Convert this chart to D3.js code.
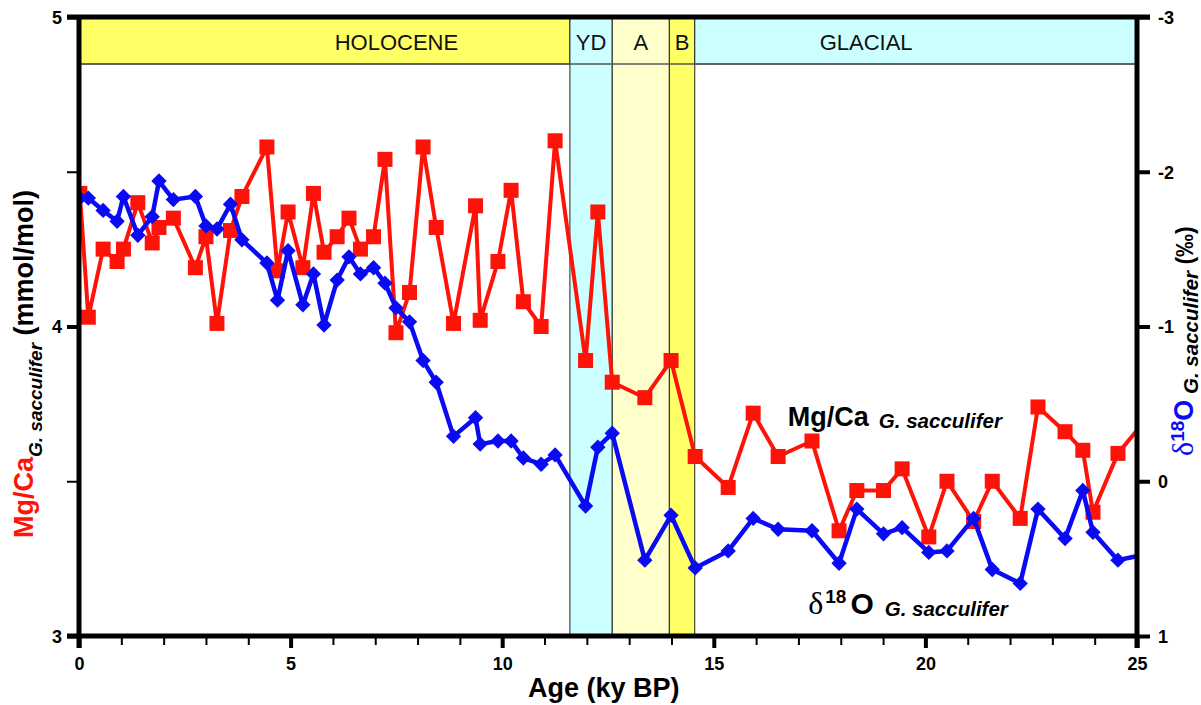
<!DOCTYPE html>
<html>
<head>
<meta charset="utf-8">
<script src="https://cdn.jsdelivr.net/npm/d3@7"></script>
<style>
  body { margin: 0; background: #fff; }
  text { font-family: "Liberation Sans", Arial, Helvetica, sans-serif; }
</style>
</head>
<body>
<svg id="chart" width="1201" height="705"></svg>
<script>
// sample ages (ky BP), shared by both records; last one is past the axis end and gets clipped
let ages = [0.02, 0.22, 0.57, 0.90, 1.05, 1.39, 1.73, 1.89, 2.23, 2.75, 3.00, 3.26, 3.58, 3.85,
  4.44, 4.69, 4.94, 5.29, 5.54, 5.79, 6.10, 6.38, 6.65, 6.96, 7.23, 7.49, 7.81, 8.13, 8.44,
  8.85, 9.37, 9.48, 9.90, 10.21, 10.50, 10.92, 11.25, 11.97, 12.26, 12.60, 13.37, 13.99,
  14.56, 15.34, 15.93, 16.52, 17.32, 17.96, 18.38, 19.01, 19.45, 20.08, 20.51, 21.14, 21.58,
  22.24, 22.66, 23.30, 23.72, 23.96, 24.55, 25.4];

// Mg/Ca (mmol/mol)
let mgCa = [4.43, 4.03, 4.25, 4.21, 4.25, 4.40, 4.27, 4.32, 4.35, 4.19, 4.29, 4.01, 4.31, 4.42,
  4.58, 4.18, 4.37, 4.19, 4.43, 4.24, 4.29, 4.35, 4.25, 4.29, 4.54, 3.98, 4.11, 4.58, 4.32,
  4.01, 4.39, 4.02, 4.21, 4.44, 4.08, 4.00, 4.60, 3.89, 4.37, 3.82, 3.77, 3.89,
  3.58, 3.48, 3.72, 3.58, 3.63, 3.34, 3.47, 3.47, 3.54, 3.32, 3.50, 3.37, 3.50,
  3.38, 3.74, 3.66, 3.60, 3.40, 3.59, 3.73];

// d18O (permil)
let d18O = [-1.83, -1.83, -1.75, -1.68, -1.84, -1.59, -1.71, -1.94, -1.82, -1.84, -1.65, -1.63, -1.79, -1.56,
  -1.41, -1.17, -1.49, -1.14, -1.34, -1.01, -1.30, -1.45, -1.34, -1.38, -1.28, -1.12, -1.03, -0.78, -0.64,
  -0.29, -0.41, -0.24, -0.26, -0.26, -0.15, -0.11, -0.17, 0.16, -0.22, -0.31, 0.51, 0.22,
  0.56, 0.45, 0.24, 0.31, 0.32, 0.53, 0.18, 0.34, 0.30, 0.46, 0.45, 0.24, 0.57,
  0.66, 0.18, 0.37, 0.06, 0.33, 0.51, 0.46];

let periodNames = ["HOLOCENE", "YD", "A", "B", "GLACIAL"];
let periodBounds = [0, 11.6, 12.6, 13.95, 14.55, 25];

let xTicks = d3.range(0, 26, 1);
let mgTicks = [3, 3.5, 4, 4.5, 5];
let d18Ticks = [-3, -2, -1, 0, 1];

let red = "#ff1208";
let blue = "#0a0af5";
let serif = "'Liberation Serif', 'DejaVu Serif', serif";

const svg = d3.select("#chart");

const x = d3.scaleLinear().domain([0, 25]).range([79, 1137]);
const yMg = d3.scaleLinear().domain([3, 5]).range([636, 17]);
const yD = d3.scaleLinear().domain([1, -3]).range([636, 17]);

// clip for the series
svg.append("clipPath").attr("id", "plotClip")
  .append("rect")
  .attr("x", x(0)).attr("y", yMg(5))
  .attr("width", x(25) - x(0)).attr("height", yMg(3) - yMg(5));

// ---- period bands
let bandFill = ["#ffff66", "#ccffff", "#ffffcc", "#ffff66", "#ccffff"];
let bandFull = [false, true, true, true, false];
let labelAge = [7.5, null, null, null, 18.6];
let stripBottom = 4.848;

const periods = periodNames.map(function (name, i) {
  return { name: name, from: periodBounds[i], to: periodBounds[i + 1], i: i };
});

const bands = svg.append("g");
bands.selectAll("rect")
  .data(periods)
  .enter()
  .append("rect")
  .attr("x", d => x(d.from))
  .attr("y", yMg(5))
  .attr("width", d => x(d.to) - x(d.from))
  .attr("height", d => (bandFull[d.i] ? yMg(3) : yMg(stripBottom)) - yMg(5))
  .style("fill", d => bandFill[d.i])
  .style("stroke", "#222")
  .style("stroke-width", "1px");

bands.append("line")
  .attr("x1", x(0)).attr("x2", x(25))
  .attr("y1", yMg(stripBottom)).attr("y2", yMg(stripBottom))
  .style("stroke", "#555")
  .style("stroke-width", "1.5px");

bands.selectAll("text")
  .data(periods)
  .enter()
  .append("text")
  .attr("x", d => x(labelAge[d.i] !== null ? labelAge[d.i] : (d.from + d.to) / 2))
  .attr("y", 50)
  .attr("text-anchor", "middle")
  .style("font-size", "22px")
  .style("fill", "#111")
  .text(d => d.name);

// ---- series
const points = ages.map((a, i) => ({ age: a, mg: mgCa[i], d: d18O[i] }));
const series = svg.append("g").attr("clip-path", "url(#plotClip)");

const mgLine = d3.line().x(d => x(d.age)).y(d => yMg(d.mg));
const dLine = d3.line().x(d => x(d.age)).y(d => yD(d.d));

series.append("path")
  .datum(points)
  .attr("d", mgLine)
  .style("fill", "none")
  .style("stroke", red)
  .style("stroke-width", "4px")
  .style("stroke-linejoin", "round");

series.append("g")
  .selectAll("rect")
  .data(points)
  .enter()
  .append("rect")
  .attr("x", d => x(d.age) - 7.5)
  .attr("y", d => yMg(d.mg) - 7.5)
  .attr("width", 15)
  .attr("height", 15)
  .style("fill", red);

series.append("path")
  .datum(points)
  .attr("d", dLine)
  .style("fill", "none")
  .style("stroke", blue)
  .style("stroke-width", "4.5px")
  .style("stroke-linejoin", "round");

series.append("g")
  .selectAll("path")
  .data(points)
  .enter()
  .append("path")
  .attr("d", d3.symbol(d3.symbolSquare, 118))
  .attr("transform", d => `translate(${x(d.age)},${yD(d.d)}) rotate(45)`)
  .style("fill", blue);

// ---- axes
function styleTicks(g, isMajor) {
  g.select(".domain").remove();
  g.attr("font-family", null).attr("font-size", null);
  g.selectAll(".tick line")
    .attr("stroke", "#000")
    .attr("stroke-width", d => (isMajor(d) ? 4 : 2));
  g.selectAll(".tick text")
    .style("font-size", "18px")
    .style("font-weight", "bold")
    .attr("fill", "#000");
}

const isInt = d => Number.isInteger(d);

svg.append("g")
  .attr("transform", `translate(0,${yMg(3)})`)
  .call(d3.axisBottom(x).tickValues(xTicks).tickSize(12).tickPadding(9)
    .tickFormat(d => (d % 5 === 0 ? String(d) : "")))
  .call(g => styleTicks(g, d => d % 5 === 0))
  .call(g => g.selectAll(".tick line").attr("y2", d => (d % 5 === 0 ? 12 : 9)));

svg.append("g")
  .attr("transform", `translate(${x(0)},0)`)
  .call(d3.axisLeft(yMg).tickValues(mgTicks).tickSize(12).tickPadding(5)
    .tickFormat(d => (isInt(d) ? String(d) : "")))
  .call(g => styleTicks(g, isInt))
  .call(g => g.selectAll(".tick text").attr("dy", "0.36em"));

svg.append("g")
  .attr("transform", `translate(${x(25)},0)`)
  .call(d3.axisRight(yD).tickValues(d18Ticks).tickSize(13).tickPadding(8)
    .tickFormat(d => String(d)))
  .call(g => styleTicks(g, () => true))
  .call(g => g.selectAll(".tick text").attr("dy", "0.36em"));

// frame
const frame = svg.append("g").style("stroke", "#000").style("stroke-width", "5px");
frame.append("line").attr("x1", x(0) - 12).attr("x2", x(25) + 13).attr("y1", yMg(5)).attr("y2", yMg(5));
frame.append("line").attr("x1", x(0) - 12).attr("x2", x(25) + 2).attr("y1", yMg(3)).attr("y2", yMg(3));
frame.append("line").attr("x1", x(0)).attr("x2", x(0)).attr("y1", yMg(5) - 2).attr("y2", yMg(3) + 12);
frame.append("line").attr("x1", x(25)).attr("x2", x(25)).attr("y1", yMg(5) - 2).attr("y2", yMg(3) + 12);

// ---- titles
svg.append("text")
  .attr("x", x(12.4))
  .attr("y", 697)
  .attr("text-anchor", "middle")
  .style("font-size", "27px")
  .style("font-weight", "bold")
  .text("Age (ky BP)");

const leftTitle = svg.append("text")
  .attr("transform", "translate(33,538) rotate(-90)")
  .style("font-weight", "bold")
  .style("font-size", "27px");
leftTitle.append("tspan").style("fill", red).text("Mg/Ca");
leftTitle.append("tspan").attr("dy", 9).style("font-size", "19px").style("font-style", "italic").text("G. sacculifer");
leftTitle.append("tspan").attr("dy", -9).text(" (mmol/mol)");

const rightTitle = svg.append("text")
  .attr("transform", "translate(1193,456) rotate(-90)")
  .style("font-weight", "bold")
  .style("font-size", "27px");
rightTitle.append("tspan").style("fill", blue).style("font-family", serif)
  .style("font-weight", "normal").style("font-size", "30px").text("δ");
rightTitle.append("tspan").style("fill", blue).attr("dy", -9).style("font-size", "19px").text("18");
rightTitle.append("tspan").style("fill", blue).attr("dy", 9).text("O");
rightTitle.append("tspan").attr("dy", 5).style("font-size", "20.5px").style("font-style", "italic").text(" G. sacculifer");
rightTitle.append("tspan").attr("dy", -5).style("font-size", "23px").text(" (‰)");

// in-plot labels
const mgLabel = svg.append("text")
  .attr("x", x(16.75))
  .attr("y", yMg(3.68))
  .style("font-weight", "bold")
  .style("font-size", "27px");
mgLabel.append("tspan").text("Mg/Ca");
mgLabel.append("tspan").attr("dx", 10).attr("dy", 2).style("font-size", "20.5px").style("font-style", "italic").text("G. sacculifer");

const dLabel = svg.append("text")
  .attr("x", x(17.23))
  .attr("y", yD(0.86))
  .style("font-weight", "bold")
  .style("font-size", "30px");
dLabel.append("tspan").style("font-family", serif)
  .style("font-weight", "normal").style("font-size", "32px").text("δ");
dLabel.append("tspan").attr("dy", -11).attr("dx", 2).style("font-size", "19px").text("18");
dLabel.append("tspan").attr("dy", 11).attr("dx", 4).text("O");
dLabel.append("tspan").attr("dx", 11).attr("dy", 2).style("font-size", "20.5px").style("font-style", "italic").text("G. sacculifer");
</script>
</body>
</html>
